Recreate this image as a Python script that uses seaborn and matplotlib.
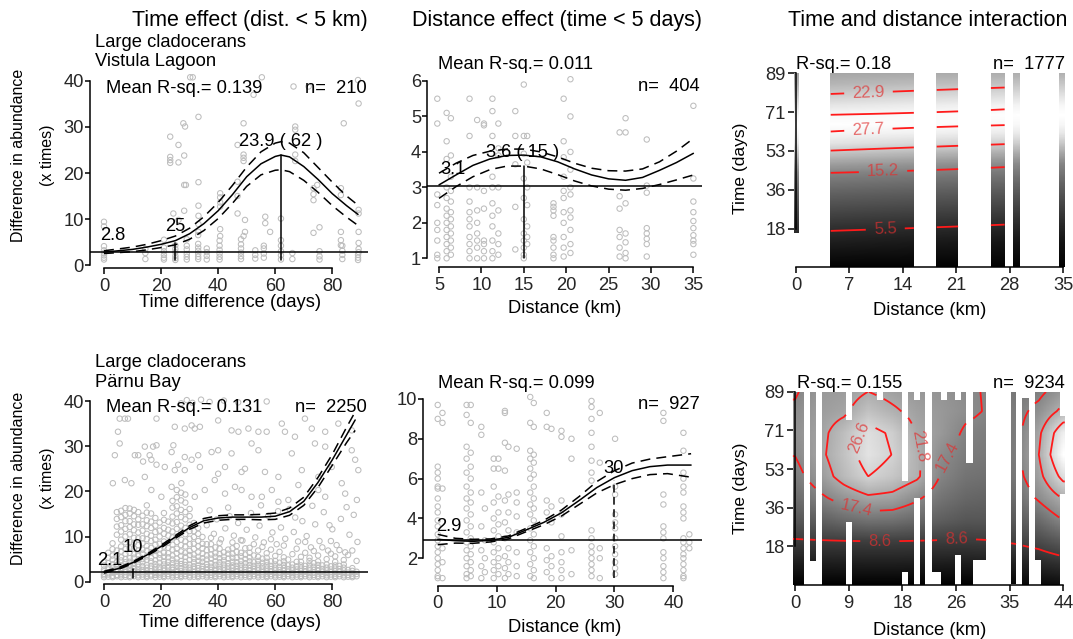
import numpy as np
import pandas as pd
import matplotlib
matplotlib.use("Agg")
import matplotlib.pyplot as plt
import seaborn as sns

sns.set_theme(style="ticks")
plt.rcParams['font.family'] = ['Liberation Sans', 'DejaVu Sans']
plt.rcParams['text.color'] = 'black'
plt.rcParams['axes.edgecolor'] = 'black'

# ====================== DATA ======================
# --- Top-left: time effect, Vistula Lagoon ---
tl_cx = [0, 5, 10, 15, 20, 25, 30, 35, 40, 45, 50, 55, 60, 62, 65, 70, 75, 80, 85, 89]
tl_fit = [2.8, 3.1, 3.4, 3.9, 4.5, 5.3, 6.8, 9.0, 11.8, 15.3, 19.2, 22.0, 23.6, 23.9, 23.5, 21.4, 18.6, 15.5, 12.9, 11.0]
tl_up = [3.1, 3.5, 3.9, 4.5, 5.3, 6.3, 8.0, 10.5, 13.6, 17.3, 21.3, 24.6, 26.5, 26.8, 26.5, 24.4, 21.2, 18.0, 15.0, 13.0]
tl_lo = [2.5, 2.7, 2.9, 3.3, 3.8, 4.4, 5.6, 7.5, 10.1, 13.4, 17.1, 19.6, 20.6, 20.7, 20.3, 18.4, 15.8, 12.9, 10.4, 8.6]
tl_cols = {0: [1.2, 1.6, 2.1, 2.6, 3.2, 4.1, 8.4, 9.4], 14.5: [1.3, 2.6, 3.5],
           21: [1.2, 1.6, 2.2, 3.0, 3.8, 5.5], 25: [1.1, 1.5, 2.0, 2.8, 3.5, 4.3],
           29: [1.2, 1.8, 2.4, 3.4, 4.2, 5.6], 33: [1.3, 1.8, 2.4, 3.1, 3.8, 4.6, 6.5],
           36: [1.2, 2.0, 2.8, 3.6], 40.5: [1.2, 1.8, 2.5, 3.3, 4.2, 5.3],
           48: [1.3, 1.9, 2.7, 3.6, 4.5, 5.6], 53: [1.4, 2.2, 3.2], 56: [1.6, 2.5, 3.6, 4.2],
           62: [1.2, 2.1, 3.0, 4.2], 66: [1.3, 2.6], 75.5: [1.2, 1.9, 3.0],
           83.5: [1.3, 2.2, 3.1, 4.2], 89: [1.1, 1.6, 2.2]}
tl_ex = [30.2, 31.1, 55.3, 66.4, 71.7, 52.4, 89.2, 89.0, 23.2, 26.1, 23.2, 23.2, 23.2, 26.1, 28.1, 28.1,
         28.7, 27.8, 28.4, 33.1, 33.1, 24.3, 26.1, 28.1, 33.1, 33.1, 33.1, 33.1, 40.7, 40.7, 40.7, 40.7,
         40.7, 40.7, 46.8, 46.8, 46.8, 46.8, 48.9, 48.9, 48.9, 48.9, 49.4, 49.4, 48.9, 56.5, 56.5, 58.2,
         62.0, 62.0, 67.0, 67.0, 67.0, 67.0, 73.4, 73.4, 73.4, 74.7, 73.4, 75.5, 83.0, 83.0, 84.0, 83.0,
         83.0, 83.0, 89.2, 89.2, 89.2, 89.2, 89.2, 89.2]
tl_ey = [40.8, 40.8, 40.8, 38.8, 38.8, 37.0, 35.1, 40.2, 27.9, 26.1, 23.5, 22.8, 22.2, 22.3, 23.8, 17.4,
         17.4, 30.8, 30.1, 32.2, 18.0, 11.2, 9.8, 11.8, 12.9, 10.7, 8.9, 7.2, 15.6, 14.7, 13.6, 12.7,
         7.8, 6.3, 26.1, 18.1, 15.0, 11.2, 30.8, 24.0, 23.3, 22.6, 9.8, 7.2, 6.3, 10.5, 9.1, 7.2,
         10.1, 5.4, 30.1, 29.4, 24.0, 22.6, 16.7, 15.4, 14.1, 17.4, 7.0, 8.2, 16.7, 15.2, 30.8, 7.2,
         5.4, 4.3, 12.0, 11.2, 7.2, 4.8, 3.5, 2.8]
tl_ref, tl_mark, tl_peak = 2.8, 25, 62

# --- Top-middle: distance effect, Vistula Lagoon ---
tm_cx = [5, 7, 9, 11, 13, 15, 17, 19, 21, 23, 25, 27, 29, 31, 33, 35]
tm_fit = [3.07, 3.35, 3.62, 3.80, 3.90, 3.91, 3.86, 3.72, 3.52, 3.35, 3.24, 3.20, 3.28, 3.48, 3.70, 3.96]
tm_up = [3.40, 3.68, 3.90, 4.02, 4.08, 4.08, 4.00, 3.86, 3.68, 3.54, 3.47, 3.46, 3.52, 3.72, 4.02, 4.38]
tm_lo = [2.69, 3.02, 3.30, 3.50, 3.60, 3.60, 3.52, 3.36, 3.18, 3.04, 2.95, 2.92, 2.97, 3.08, 3.21, 3.35]
tm_cols = {4.8: [5.5, 4.8, 2.8, 2.5, 2.0, 1.8, 1.5, 1.1, 1.0],
           5.9: [5.1, 4.3, 3.8, 3.0, 2.7, 2.4, 2.2, 2.0, 1.8, 1.6, 1.4, 1.2, 1.0],
           6.4: [4.95, 3.9, 3.3, 2.9, 2.6, 2.3, 2.1, 1.9, 1.7, 1.5, 1.3, 1.1],
           8.6: [5.5, 4.45, 3.0, 2.6, 2.3, 2.1, 1.9, 1.6, 1.4, 1.2, 1.0],
           9.5: [4.9, 3.0, 2.35, 2.0, 1.7, 1.5, 1.3, 1.0],
           10.3: [4.8, 4.75, 2.9, 2.4, 1.5, 1.4, 1.2, 1.0],
           11.3: [5.5, 5.15, 4.45, 3.3, 3.0, 2.55, 2.2, 1.9, 1.5, 1.2, 1.0],
           12.0: [4.8, 4.1, 3.9, 3.0, 2.35, 1.7, 1.4, 1.1],
           14.0: [5.15, 4.45, 3.65, 2.45, 1.25],
           15.0: [5.9, 4.45, 3.95, 3.25, 2.7, 2.1, 1.7, 1.5, 1.3, 1.1, 1.0],
           15.4: [4.45, 3.7, 3.0, 2.5, 1.9, 1.6, 1.4],
           18.5: [2.55, 2.45, 2.35, 2.2, 1.6, 1.5, 1.3, 1.1, 1.0],
           19.7: [5.5, 4.3, 3.85, 3.3, 2.9, 2.7, 2.3, 2.0, 1.6, 1.3, 1.05],
           20.5: [6.05, 5.0, 4.0, 3.5, 3.0, 2.8, 2.35, 2.15, 1.8, 1.4, 1.15],
           26.3: [4.55, 2.75, 2.4, 1.8, 1.6, 1.3, 1.05],
           27.0: [4.95, 4.55, 2.55, 1.7, 1.45, 1.15, 1.0],
           29.5: [4.35, 3.05, 2.85, 1.85, 1.7, 1.55, 1.4, 1.05],
           35.0: [5.3, 3.25, 2.6, 2.3, 2.05, 1.85, 1.65, 1.5, 1.4, 1.1]}
tm_ref, tm_peak, tm_peak_val = 3.05, 15, 3.6

# --- Top-right: interaction, Vistula Lagoon ---
tr_vals = [1.0, 2.9, 5.5, 8.5, 11.6, 15.2, 19.0, 22.9, 26.0, 27.7, 28.6, 27.7, 25.6, 22.9, 20.2, 18.6]
tr_t_d0 = [0, 7.1, 16.2, 25.1, 34.1, 43.0, 48.1, 52.9, 57.1, 61.3, 65.5, 69.7, 74.1, 78.9, 84.1, 89]
tr_t_d35 = [0, 11.6, 20.7, 29.6, 38.6, 47.5, 52.6, 57.4, 61.6, 65.8, 70.0, 74.2, 78.6, 83.4, 88.6, 92.6]
tr_cells = [(-0.4, 0.4, 15.7, 89), (4.46, 15.5, 0, 89), (18.4, 21.3, 0, 89),
            (25.5, 27.4, 0, 89), (28.4, 29.4, 0, 89), (34.5, 35.4, 0, 89)]
tr_levels = [5.5, 15.2, 22.9, 27.7]

# --- Bottom-left: time effect, Parnu Bay ---
bl_cx = [0, 5, 10, 15, 20, 25, 30, 35, 40, 45, 50, 55, 60, 65, 70, 75, 80, 85, 88]
bl_fit = [2.1, 2.9, 4.2, 5.9, 7.8, 9.9, 12.0, 13.5, 14.1, 14.3, 14.3, 14.3, 14.5, 15.5, 17.8, 22.0, 27.0, 32.5, 35.8]
bl_up = [2.3, 3.1, 4.4, 6.1, 8.1, 10.2, 12.4, 14.0, 14.6, 14.8, 14.8, 14.9, 15.2, 16.3, 18.7, 23.1, 28.2, 34.2, 37.6]
bl_lo = [1.9, 2.7, 4.0, 5.7, 7.5, 9.6, 11.6, 13.0, 13.6, 13.8, 13.8, 13.7, 13.8, 14.7, 16.9, 20.9, 25.8, 30.8, 33.5]
bl_cols = {
    0: [1.0, 1.4, 1.7, 2.3, 2.7, 3.6, 4.3],
    1.5: [1.1, 1.6, 1.9, 2.7, 3.2, 4.1, 5.3, 6.4],
    3: [1.0, 1.3, 2.0, 2.4, 3.1, 3.8, 4.9, 5.8, 7.2, 8.5],
    4.5: [1.2, 1.5, 2.2, 2.8, 3.7, 4.4, 5.7, 6.9, 10.4, 12.2, 13.9, 15.4],
    6: [1.0, 1.4, 1.8, 2.5, 3.0, 3.6, 4.7, 5.4, 6.7, 7.8, 9.3, 11.1, 12.5, 14.3, 15.7],
    7.5: [1.1, 1.5, 2.1, 2.6, 3.4, 4.3, 5.0, 6.2, 7.2, 8.7, 10.0, 11.7, 13.4, 14.8, 16.3],
    9: [1.0, 1.3, 1.9, 2.3, 2.9, 3.7, 4.4, 5.2, 6.4, 7.4, 8.8, 10.5, 12.1, 13.4, 15.1, 16.2],
    10.5: [1.2, 1.7, 2.1, 2.8, 3.5, 4.2, 5.3, 6.1, 7.3, 8.6, 9.7, 11.4, 12.7, 14.5, 15.9],
    12: [1.0, 1.4, 2.0, 2.5, 3.3, 3.9, 4.9, 6.0, 6.9, 8.1, 9.6, 10.9, 12.6, 13.8, 15.4],
    13.5: [1.1, 1.6, 2.1, 2.6, 3.4, 4.3, 5.0, 6.2, 7.1, 8.5, 9.6, 11.3, 12.7, 14.6],
    15: [1.0, 1.3, 1.8, 2.4, 3.1, 3.7, 4.8, 5.6, 6.9, 7.9, 9.4, 10.6, 12.3, 13.6, 15.3, 16.9],
    16.5: [1.2, 1.6, 2.3, 2.9, 3.5, 4.5, 5.3, 6.5, 7.5, 9.0, 10.2, 11.9, 13.3, 15.1],
    18: [1.0, 1.5, 1.9, 2.5, 3.2, 3.9, 4.7, 5.9, 6.8, 8.2, 9.3, 11.0, 12.4, 14.1],
    19.5: [1.1, 1.6, 2.0, 2.7, 3.3, 4.2, 5.2, 6.0, 7.3, 8.4, 10.0, 11.3, 13.1],
    21: [1.0, 1.3, 1.8, 2.4, 3.0, 3.8, 4.5, 5.5, 6.4, 7.8, 8.9, 10.6, 11.9, 13.7, 15.2],
    22.5: [1.2, 1.7, 2.2, 3.0, 3.6, 4.4, 5.4, 6.3, 7.5, 8.6, 10.2, 11.5, 13.3],
    24: [1.0, 1.4, 1.9, 2.6, 3.2, 4.1, 4.9, 5.8, 7.1, 8.2, 9.8, 11.1, 12.9, 14.4, 16.4, 17.9],
    25.5: [1.1, 1.5, 2.1, 2.7, 3.5, 4.2, 5.1, 6.3, 7.3, 8.8, 10.0, 11.7, 13.2, 15.1, 16.7, 18.7, 20.3],
    27: [1.0, 1.3, 1.8, 2.3, 3.0, 3.9, 4.6, 5.7, 6.7, 8.1, 9.3, 11.0, 12.4, 14.3, 15.9, 18.0, 19.7],
    28.5: [1.2, 1.7, 2.2, 2.9, 3.7, 4.4, 5.5, 6.4, 7.8, 8.9, 10.5, 11.9, 13.8, 15.4, 17.5, 19.3],
    30: [1.0, 1.4, 2.0, 2.5, 3.1, 3.8, 4.8, 5.9, 6.8, 8.3, 9.5, 11.2, 12.6, 14.5, 16.1],
    31.5: [1.1, 1.6, 2.1, 2.8, 3.4, 4.3, 5.1, 6.0, 7.3, 8.4, 9.9, 11.2, 13.0],
    33: [1.0, 1.3, 1.8, 2.3, 3.0, 3.6, 4.6, 5.5, 6.5, 7.9, 9.0, 10.6, 11.9],
    34.5: [1.2, 1.7, 2.2, 2.8, 3.5, 4.4, 5.2, 6.2, 7.4, 8.4, 9.9],
    36: [1.0, 1.4, 1.9, 2.6, 3.2, 3.9, 4.9, 5.8, 7.0, 8.3],
    37.5: [1.1, 1.5, 2.0, 2.6, 3.3, 4.1, 5.1, 6.0, 7.2, 8.3, 9.7],
    39: [1.0, 1.3, 1.8, 2.4, 2.9, 3.7, 4.5, 5.5, 6.3, 7.6],
    40.5: [1.2, 1.7, 2.2, 2.8, 3.6, 4.3, 5.2, 6.1, 7.3, 8.6],
    42: [1.0, 1.4, 1.9, 2.5, 3.1, 3.8, 4.7, 5.5, 6.5],
    43.5: [1.1, 1.6, 2.1, 2.7, 3.4, 4.1, 5.1, 6.2, 7.1],
    45: [1.0, 1.3, 1.8, 2.3, 3.0, 3.6, 4.4, 5.3, 6.2, 7.4, 8.7],
    46.5: [1.2, 1.7, 2.2, 2.8, 3.5, 4.3, 5.3, 6.6, 7.9],
    48: [1.0, 1.4, 1.9, 2.5, 3.1, 3.8, 4.6, 5.6, 6.4, 9.2],
    49.5: [1.1, 1.5, 2.0, 2.6, 3.3, 4.1, 5.0, 6.0, 7.4],
    51: [1.0, 1.3, 1.8, 2.4, 3.0, 3.7, 4.5, 5.4, 6.4, 7.5],
    52.5: [1.2, 1.7, 2.2, 2.8, 3.5, 4.3, 5.8, 8.3],
    54: [1.0, 1.4, 1.9, 2.5, 3.1, 3.8, 4.6, 5.5, 6.9],
    55.5: [1.1, 1.6, 2.1, 2.7, 3.4, 4.2, 5.1, 7.7],
    57: [1.0, 1.3, 1.8, 2.3, 2.9, 3.6, 4.4, 5.3, 6.3],
    58.5: [1.2, 1.7, 2.2, 2.8, 3.5, 4.5, 7.1, 9.4],
    60: [1.0, 1.4, 1.9, 2.5, 3.1, 3.8, 4.6, 5.7],
    61.5: [1.1, 1.5, 2.0, 2.6, 3.3, 4.2, 6.6],
    63: [1.0, 1.3, 1.8, 2.4, 3.0, 3.7, 4.5, 5.4, 8.0],
    64.5: [1.2, 1.7, 2.2, 2.8, 3.6, 4.9],
    66: [1.0, 1.4, 1.9, 2.5, 3.1, 3.8, 6.1],
    67.5: [1.1, 1.6, 2.1, 2.7, 3.4, 4.4, 7.3],
    69: [1.0, 1.3, 1.8, 2.3, 2.9, 3.6, 4.4, 5.5],
    70.5: [1.2, 1.7, 2.2, 2.8, 3.5, 6.4, 8.8],
    72: [1.0, 1.4, 1.9, 2.5, 3.1, 3.8, 4.6, 5.3],
    73.5: [1.1, 1.5, 2.0, 2.6, 3.3, 4.1, 6.8],
    75: [1.0, 1.3, 1.8, 2.4, 3.0, 3.7, 4.5, 5.8],
    76.5: [1.2, 1.7, 2.2, 2.8, 3.6, 7.6],
    78: [1.0, 1.4, 1.9, 2.5, 3.1, 3.8, 5.0],
    79.5: [1.1, 1.6, 2.1, 2.7, 3.4, 6.2, 9.0],
    81: [1.0, 1.3, 1.8, 2.3, 2.9, 3.6, 4.4, 5.6],
    82.5: [1.2, 1.7, 2.2, 2.8, 3.5, 7.0],
    84: [1.0, 1.4, 1.9, 2.5, 3.1, 3.8, 4.8],
    85.5: [1.1, 1.5, 2.0, 2.6, 5.9],
    87: [1.0, 1.3, 1.8, 2.4, 3.0, 6.9],
    88.5: [1.2, 1.7, 2.2, 4.6]}
bl_ex = [5.5, 7.3, 8.4, 18.4, 4.9, 24.8, 28.3, 30.7, 31.8, 33.6, 40, 44.7, 47.1, 50.6, 54.1, 57, 62.3, 63.4,
         66.9, 70.4, 72.8, 77.5, 82.1, 86.8, 5.5, 14.3, 17.2, 18.4, 24.3, 16, 3.8, 10.8, 12, 23.7, 28.3, 33,
         37.7, 40, 44.7, 51.7, 54.1, 65.8, 73.9, 77.5, 86.8, 13.7, 16.6, 18.4, 21.3, 24.8, 26, 28.3, 30.7,
         33.6, 40, 42.4, 48.2, 49.4, 56.4, 61.1, 69.3, 75.1, 79.8, 88, 89.1, 3.1, 7.3, 9.6, 14.3, 16.6, 20.1,
         23.7, 27.1, 31.8, 35.3, 38.8, 42.4, 45.9, 48.2, 51.7, 55.3, 58.8, 61.1, 64.6, 68.1, 75.1, 77.5, 83.3,
         84.5, 88.6, 36, 37, 38.5, 39.5, 41, 42.5, 43.5, 45.5, 47, 48.5, 50, 51.5, 53, 54.5, 56, 57.5, 59,
         60.5, 62, 63.5, 65, 66.5, 68, 69.5, 71, 72.5, 74, 75.5, 77, 78.5, 80, 81.5, 83, 84.5, 86, 87.5, 88.8,
         85, 79, 73, 67, 61, 55, 44, 27, 29, 31, 34, 37, 42, 47, 57]
bl_ey = [36.1, 36.1, 36.1, 36.1, 33.2, 34.3, 33.9, 34.6, 33.9, 34.3, 35.7, 33.5, 33.2, 33.9, 33.2, 33.2, 35.0,
         33.2, 32.1, 36.1, 33.9, 33.2, 35.0, 33.5, 30.6, 29.9, 29.9, 30.2, 30.2, 28, 28, 28, 28, 28.7, 27.6, 28,
         28.7, 29.1, 28.4, 30.6, 29.1, 28.4, 30.6, 29.9, 29.1, 26.6, 27, 25.9, 25.4, 24.7, 25.9, 24.7, 27,
         25.4, 23.9, 25.4, 24.3, 25, 24.3, 23.2, 24.7, 23.2, 25.4, 27, 24.7, 21.8, 22.5, 21.8, 23.2, 20.3, 18.8,
         21, 21.8, 18.8, 20.3, 22.5, 19.5, 21, 20.3, 18.8, 18.8, 20.3, 17.7, 18.1, 21.4, 20.3, 18.8, 21.8,
         19.5, 18.1, 12.5, 15.8, 10.6, 13.8, 9.4, 11.8, 16.4, 10.2, 13.0, 9.1, 11.5, 15.2, 9.8, 12.4, 8.7, 14.6,
         10.9, 8.3, 12.0, 9.5, 16.1, 11.0, 8.9, 13.4, 10.1, 7.6, 12.7, 9.0, 15.4, 6.9, 11.6, 8.1, 13.9, 6.5,
         10.4, 14.8, 8.8, 16.5, 12.5, 16.8, 14.2, 15.6, 16.9, 14.5, 39.5, 40.2, 39.6, 40.3, 39.8, 40.1, 39.7, 39.9]
bl_ref, bl_mark = 2.1, 10

# --- Bottom-middle: distance effect, Parnu Bay ---
bm_cx = [0, 3, 6, 9, 12, 15, 18, 21, 24, 27, 30, 33, 36, 39, 43]
bm_fit = [2.95, 2.88, 2.85, 2.90, 3.05, 3.42, 3.80, 4.28, 4.90, 5.55, 6.05, 6.40, 6.60, 6.68, 6.68]
bm_up = [3.20, 3.00, 2.95, 2.97, 3.12, 3.50, 3.90, 4.42, 5.10, 5.85, 6.40, 6.78, 6.98, 7.10, 7.25]
bm_lo = [2.68, 2.76, 2.75, 2.82, 2.97, 3.33, 3.68, 4.12, 4.70, 5.28, 5.70, 6.00, 6.20, 6.25, 6.07]
bm_cols = {0.0: [9.7, 9.0, 6.6, 6.3, 6.0, 5.6, 5.5, 5.0, 4.6, 4.3, 3.9, 3.6, 3.2, 2.9, 2.6, 2.3, 2.0, 1.7, 1.4, 1.1, 1.0],
           0.8: [9.3, 8.8, 5.5, 2.5, 1.8, 1.0],
           4.9: [9.7, 9.2, 7.6, 7.0, 6.3, 5.6, 5.0, 4.5, 3.9, 3.3, 2.8, 2.4, 2.0, 1.6, 1.2, 1.0],
           5.6: [9.7, 8.8, 7.3, 6.6, 6.0, 5.3, 4.8, 4.2, 3.6, 3.0, 2.6, 2.2, 1.8, 1.4, 1.1],
           7.4: [8.6, 8.2, 5.3, 3.6, 2.4, 1.6, 1.0],
           8.0: [4.5, 2.9, 2.0, 1.3],
           9.5: [7.0, 6.5, 5.6, 4.8, 4.0, 3.4, 2.8, 2.3, 1.8, 1.4, 1.0],
           10.3: [7.0, 6.5, 5.1, 4.3, 3.7, 3.1, 2.5, 2.0, 1.6, 1.2],
           11.4: [9.4, 9.3, 7.8, 6.4, 4.9, 3.8, 3.0, 2.1, 1.5, 1.0],
           12.0: [7.6, 5.2, 4.3, 3.4, 2.5, 1.8, 1.2],
           13.4: [7.5, 5.3, 4.8, 4.1, 3.3, 2.3, 1.6, 1.1],
           15.7: [10.1, 8.8, 7.4, 7.0, 6.5, 6.0, 5.3, 4.7, 4.2, 3.5, 2.9, 2.3, 1.7, 1.1],
           16.3: [9.8, 8.6, 7.2, 6.8, 6.2, 5.6, 5.0, 4.5, 3.9, 3.2, 2.6, 2.0, 1.4, 1.0],
           18.5: [9.3, 8.6, 4.9, 4.3, 2.5, 1.9, 1.3],
           19.3: [8.5, 4.6, 3.8, 2.1, 1.6, 1.0],
           21.0: [8.4, 8.1, 4.9, 4.2, 3.1, 2.3, 1.8, 1.4, 1.0],
           22.7: [8.0, 7.0, 2.4, 1.2],
           26.1: [9.9, 9.6, 9.0, 8.3, 7.6, 6.9, 6.3, 5.9, 3.4, 3.0, 2.6, 2.3, 2.0, 1.7, 1.4, 1.1],
           27.5: [9.3, 6.8, 2.5, 2.0, 1.0],
           30.1: [8.0, 5.6, 5.2, 4.2, 3.8, 3.5, 3.0, 2.6, 2.2, 1.8, 1.5, 1.2],
           38.3: [9.3, 8.9, 5.2, 4.7, 3.6, 3.3, 3.0, 2.3, 2.0, 1.6, 1.3, 1.0],
           41.7: [8.3, 7.4, 6.3, 6.0, 5.6, 5.3, 4.6, 4.3, 4.0, 3.0, 2.8, 2.5, 2.2, 2.0, 1.7, 1.4, 1.1, 1.0],
           42.7: [3.2, 2.8, 2.5]}
bm_ref, bm_mark, bm_mark_val = 2.9, 30, 5.93

# --- Bottom-right: interaction, Parnu Bay ---
br_d = [0, 4, 8, 12, 16, 20, 24, 28, 32, 36, 40, 44]
br_t = [0, 10, 20, 30, 40, 50, 60, 70, 80, 89]
br_z = [[1.0, 1.0, 1.0, 1.0, 1.0, 1.0, 1.0, 1.0, 1.2, 1.5, 2.0, 2.5],
        [4.5, 4.5, 4.6, 4.7, 4.7, 4.6, 4.5, 4.4, 4.6, 5.0, 6.0, 7.0],
        [8.2, 8.3, 8.4, 8.5, 8.5, 8.4, 8.3, 8.2, 8.4, 9.0, 10.0, 12.0],
        [11.5, 12.5, 14.0, 15.0, 14.8, 13.8, 12.5, 11.5, 11.5, 12.0, 14.0, 17.5],
        [14.0, 16.5, 19.0, 21.0, 20.5, 18.0, 15.0, 13.5, 13.0, 14.0, 18.0, 22.0],
        [16.0, 19.5, 23.5, 26.6, 25.0, 22.5, 17.0, 15.0, 14.5, 15.5, 20.5, 28.0],
        [17.5, 20.8, 24.5, 28.5, 26.5, 22.5, 18.0, 16.0, 15.5, 16.0, 21.8, 32.0],
        [18.5, 20.5, 24.0, 28.0, 26.0, 21.5, 19.5, 16.8, 16.0, 16.0, 21.0, 30.0],
        [18.0, 20.0, 21.0, 24.5, 22.5, 20.5, 19.5, 18.2, 17.0, 16.0, 18.5, 23.0],
        [17.0, 19.5, 20.0, 21.8, 20.5, 19.5, 19.0, 18.0, 17.0, 15.5, 16.5, 19.5]]
br_cells = [(-0.4, 1.4, 0, 89), (2.35, 3.4, 11, 89), (4.4, 8.4, 0, 89), (8.4, 9.45, 29, 76),
            (9.45, 13.4, 0, 89), (13.4, 14.5, 0, 85), (14.5, 17.5, 0, 89), (17.5, 18.5, 6, 48),
            (18.5, 19.5, 0, 89), (19.5, 20.5, 40, 85), (20.5, 21.3, 0, 89), (22.4, 24.0, 6, 89),
            (24.0, 25.0, 0, 85), (25.0, 26.2, 0, 89), (26.2, 27.2, 14, 85), (27.2, 28.1, 0, 89),
            (28.1, 29.2, 0, 56), (29.2, 31.4, 11.5, 89), (35.4, 36.3, 0.5, 89), (37.3, 38.4, 0, 86),
            (39.3, 40.4, 11.5, 89), (40.4, 43.4, 0, 89), (43.4, 44.3, 42, 78)]
br_levels = [8.6, 17.4, 21.8, 26.6]

# ====================== FIGURE ======================
W, H = 1073, 639
fig = plt.figure(figsize=(W / 100, H / 100), dpi=100)
FS_TITLE, FS, FS_TICK, FS_CL = 15.5, 13.2, 13.2, 12
PT_COL = '#bdbdbd'
DASH = (0, (6.5, 4))


def add_ax(l, t, r, b):
    return fig.add_axes([l / W, 1 - b / H, (r - l) / W, (b - t) / H])


def ftext(px, py, s, size=FS, **kw):
    kw.setdefault('va', 'baseline')
    fig.text(px / W, 1 - py / H, s, fontsize=size, color='black', **kw)


def style(ax, xt, yt, xl=None, yl=None, ylen=3.5, ypad=1.0):
    for s in ['top', 'right']:
        ax.spines[s].set_visible(False)
    for s in ['left', 'bottom']:
        ax.spines[s].set_linewidth(1.1)
        ax.spines[s].set_color('black')
    ax.spines['left'].set_bounds(yt[0], yt[-1])
    ax.spines['bottom'].set_bounds(xt[0], xt[-1])
    ax.set_xticks(xt)
    ax.set_yticks(yt)
    if xl is not None:
        ax.set_xticklabels(xl)
    if yl is not None:
        ax.set_yticklabels(yl)
    ax.tick_params(axis='x', direction='out', length=4, width=1.1, color='black', labelsize=FS_TICK, pad=3)
    ax.tick_params(axis='y', direction='out', length=ylen, width=1.1, color='black', labelsize=FS_TICK, pad=ypad)
    ax.set_xlabel('')
    ax.set_ylabel('')
    ax.set_facecolor('none')


def points(ax, x, y):
    sns.scatterplot(x=x, y=y, ax=ax, s=15, facecolors='none', edgecolor=PT_COL,
                    linewidth=0.75, zorder=1, legend=False)


def curves(ax, cx, fit, up, lo):
    sns.lineplot(x=cx, y=fit, ax=ax, color='black', linewidth=1.1, estimator=None, sort=False, zorder=4)
    for c in (up, lo):
        sns.lineplot(x=cx, y=c, ax=ax, color='black', linewidth=1.1, linestyle=DASH,
                     estimator=None, sort=False, zorder=4)


def flatten(cols):
    xs, ys = [], []
    for k, v in cols.items():
        xs += [k] * len(v)
        ys += v
    return xs, ys


def cell_mask(dc, tc, cells):
    D, T = np.meshgrid(dc, tc)
    inside = np.zeros(D.shape, bool)
    for d0, d1, t0, t1 in cells:
        inside |= (D >= d0) & (D < d1) & (T >= t0) & (T < t1)
    return ~inside


# ---------------- Top-left ----------------
ax = add_ax(90, 73.6, 368.3, 267.8)
ax.set_xlim(-4.9, 92.6); ax.set_ylim(-0.6, 41.6)
x1, y1 = flatten(tl_cols)
points(ax, x1 + tl_ex, y1 + tl_ey)
ax.axhline(tl_ref, color='black', lw=1.1, zorder=3)
curves(ax, tl_cx, tl_fit, tl_up, tl_lo)
ax.plot([tl_peak, tl_peak], [1, tl_fit[tl_cx.index(tl_peak)]], color='black', lw=1.1, zorder=4)
ax.plot([tl_mark, tl_mark], [1.1, tl_fit[tl_cx.index(tl_mark)] - 0.5], color='black', lw=1.1, zorder=4)
style(ax, [0, 20, 40, 60, 80], [0, 10, 20, 30, 40])
ax.text(-1.2, 5.5, f"{tl_ref}", fontsize=FS, ha='left', va='baseline')
ax.text(tl_mark, 7.5, f"{tl_mark}", fontsize=FS, ha='center', va='baseline')
ax.text(tl_peak, 25.9, f"{tl_fit[tl_cx.index(tl_peak)]} ( {tl_peak} )", fontsize=FS, ha='center', va='baseline')

# ---------------- Top-middle ----------------
ax = add_ax(427.3, 73.9, 701.7, 266.8)
ax.set_xlim(3.62, 35.98); ax.set_ylim(0.76, 6.2)
x1, y1 = flatten(tm_cols)
points(ax, x1, y1)
ax.axhline(tm_ref, color='black', lw=1.1, zorder=3)
curves(ax, tm_cx, tm_fit, tm_up, tm_lo)
ax.plot([tm_peak, tm_peak], [1, tm_peak_val], color='black', lw=1.1, zorder=4)
style(ax, [5, 10, 15, 20, 25, 30, 35], [1, 2, 3, 4, 5, 6])
ax.text(6.7, 3.38, "3.1", fontsize=FS, ha='center', va='baseline')
ax.text(14.9, 3.86, f"{tm_peak_val} ( {tm_peak} )", fontsize=FS, ha='center', va='baseline')

# ---------------- Top-right ----------------
ax = add_ax(793.7, 73.3, 1065.3, 267.3)
ax.set_xlim(-0.3, 35.3); ax.set_ylim(0, 89)
d_e = np.arange(-0.4, 35.5, 0.1)
t_e = np.arange(0, 89.01, 0.25)
dc = (d_e[:-1] + d_e[1:]) / 2
tc = (t_e[:-1] + t_e[1:]) / 2
p0 = np.interp(tc, tr_t_d0, tr_vals)
p35 = np.interp(tc, tr_t_d35, tr_vals)
Z = np.array([np.interp(dc, [0, 35], [a, b]) for a, b in zip(p0, p35)])
Zm = np.ma.array(Z, mask=cell_mask(dc, tc, tr_cells))
ax.pcolormesh(d_e, t_e, Zm, cmap='gray', vmin=0.8, vmax=28.6, shading='flat', zorder=1)
Zc = np.ma.array(Z, mask=cell_mask(dc, tc, tr_cells[1:4]))
cs = ax.contour(dc, tc, Zc, levels=tr_levels, colors='#ff1a1a', linewidths=1.3, zorder=2)
lbl = ax.clabel(cs, fmt='%.1f', fontsize=FS_CL, colors='#e03030', inline=True, inline_spacing=8,
                manual=[(9.5, 80.5), (9.5, 62.5), (11.4, 45.0), (11.7, 18.0)])
for tx in lbl:
    tx.set_alpha(0.7)
style(ax, [0, 7, 14, 21, 28, 35], [17.8, 35.6, 53.4, 71.2, 89], None, ['18', '36', '53', '71', '89'], ylen=6, ypad=1.5)
ax.spines['left'].set_position(('data', 0))
ax.spines['bottom'].set_position(('data', 0))

# ---------------- Bottom-left ----------------
ax = add_ax(90, 393.8, 368.3, 584.4)
ax.set_xlim(-4.9, 92.6); ax.set_ylim(-0.6, 41.6)
x1, y1 = flatten(bl_cols)
points(ax, x1 + bl_ex, y1 + bl_ey)
ax.axhline(bl_ref, color='black', lw=1.1, zorder=3)
curves(ax, bl_cx, bl_fit, bl_up, bl_lo)
ax.plot([bl_mark, bl_mark], [0.8, 2.7], color='black', lw=1.1, zorder=4)
style(ax, [0, 20, 40, 60, 80], [0, 10, 20, 30, 40])
ax.text(-2.4, 3.7, f"{bl_ref}", fontsize=FS, ha='left', va='baseline')
ax.text(10, 6.6, f"{bl_mark}", fontsize=FS, ha='center', va='baseline')

# ---------------- Bottom-middle ----------------
ax = add_ax(423.3, 393.0, 701.7, 585.7)
ax.set_xlim(-2.45, 44.8); ax.set_ylim(0.62, 10.3)
x1, y1 = flatten(bm_cols)
points(ax, x1, y1)
ax.axhline(bm_ref, color='black', lw=1.1, zorder=3)
curves(ax, bm_cx, bm_fit, bm_up, bm_lo)
ax.plot([bm_mark, bm_mark], [1, bm_mark_val], color='black', lw=1.1, ls=(0, (5, 3)), zorder=4)
style(ax, [0, 10, 20, 30, 40], [2, 4, 6, 8, 10])
ax.text(-0.3, 3.35, f"{bm_ref}", fontsize=FS, ha='left', va='baseline')
ax.text(29.8, 6.3, f"{bm_mark}", fontsize=FS, ha='center', va='baseline')

# ---------------- Bottom-right ----------------
ax = add_ax(792.0, 391.7, 1065.7, 585.0)
ax.set_xlim(-0.5, 44.4); ax.set_ylim(0, 89)
d_e = np.arange(-0.5, 44.41, 0.1)
t_e = np.arange(0, 89.01, 0.25)
dc = (d_e[:-1] + d_e[1:]) / 2
tc = (t_e[:-1] + t_e[1:]) / 2
A = np.array([np.interp(dc, br_d, row) for row in br_z])
Z = np.array([np.interp(tc, br_t, A[:, j]) for j in range(A.shape[1])]).T
Zm = np.ma.array(Z, mask=cell_mask(dc, tc, br_cells))
ax.pcolormesh(d_e, t_e, Zm, cmap='gray', vmin=1, vmax=32, shading='flat', zorder=1)
cs = ax.contour(dc, tc, Zm, levels=br_levels, colors='#ff1a1a', linewidths=1.3, zorder=2)
lbl = ax.clabel(cs, fmt='%.1f', fontsize=FS_CL, colors='#e03030', inline=True, inline_spacing=8,
                manual=[(12.3, 67.5), (20.2, 63.7), (10.1, 36.3), (24.6, 59.8), (13.9, 20.7), (26.5, 20.7)])
for tx in lbl:
    tx.set_alpha(0.7)
style(ax, [0, 8.8, 17.6, 26.4, 35.2, 44], [17.8, 35.6, 53.4, 71.2, 89],
      ['0', '9', '18', '26', '35', '44'], ['18', '36', '53', '71', '89'], ylen=6, ypad=1.5)
ax.spines['left'].set_position(('data', 0))
ax.spines['bottom'].set_position(('data', 0))

# ---------------- Figure texts ----------------
ftext(250, 26, "Time effect (dist. < 5 km)", size=FS_TITLE, ha='center')
ftext(556.7, 26, "Distance effect (time < 5 days)", size=FS_TITLE, ha='center')
ftext(927.5, 26, "Time and distance interaction", size=FS_TITLE, ha='center')

ftext(95, 46.7, "Large cladocerans")
ftext(95, 66, "Vistula Lagoon")
ftext(106, 92.7, "Mean R-sq.= 0.139")
ftext(366.7, 92.7, "n=  210", ha='right')
ftext(437.7, 69.3, "Mean R-sq.= 0.011")
ftext(700, 90.7, "n=  404", ha='right')
ftext(796, 69, "R-sq.= 0.18")
ftext(1065, 69, "n=  1777", ha='right')

ftext(95, 366.7, "Large cladocerans")
ftext(95, 386.7, "Pärnu Bay")
ftext(106, 412.3, "Mean R-sq.= 0.131")
ftext(366.7, 412.3, "n=  2250", ha='right')
ftext(437.7, 388.3, "Mean R-sq.= 0.099")
ftext(700, 409.3, "n=  927", ha='right')
ftext(797.3, 388.3, "R-sq.= 0.155")
ftext(1065, 388.3, "n=  9234", ha='right')

ftext(230, 306.7, "Time difference (days)", ha='center')
ftext(565, 313.3, "Distance (km)", ha='center')
ftext(930, 315, "Distance (km)", ha='center')
ftext(230, 626.7, "Time difference (days)", ha='center')
ftext(565, 631.7, "Distance (km)", ha='center')
ftext(930, 635, "Distance (km)", ha='center')

for cy in (155, 478):
    ftext(18.3, cy, "Difference in abundance", size=11.5, ha='center', va='center', rotation=90)
    ftext(47.3, cy, "(x times)", size=11.5, ha='center', va='center', rotation=90)
ftext(740, 168, "Time (days)", size=12.5, ha='center', va='center', rotation=90)
ftext(740, 488, "Time (days)", size=12.5, ha='center', va='center', rotation=90)

fig.savefig("out.png", dpi=100)
